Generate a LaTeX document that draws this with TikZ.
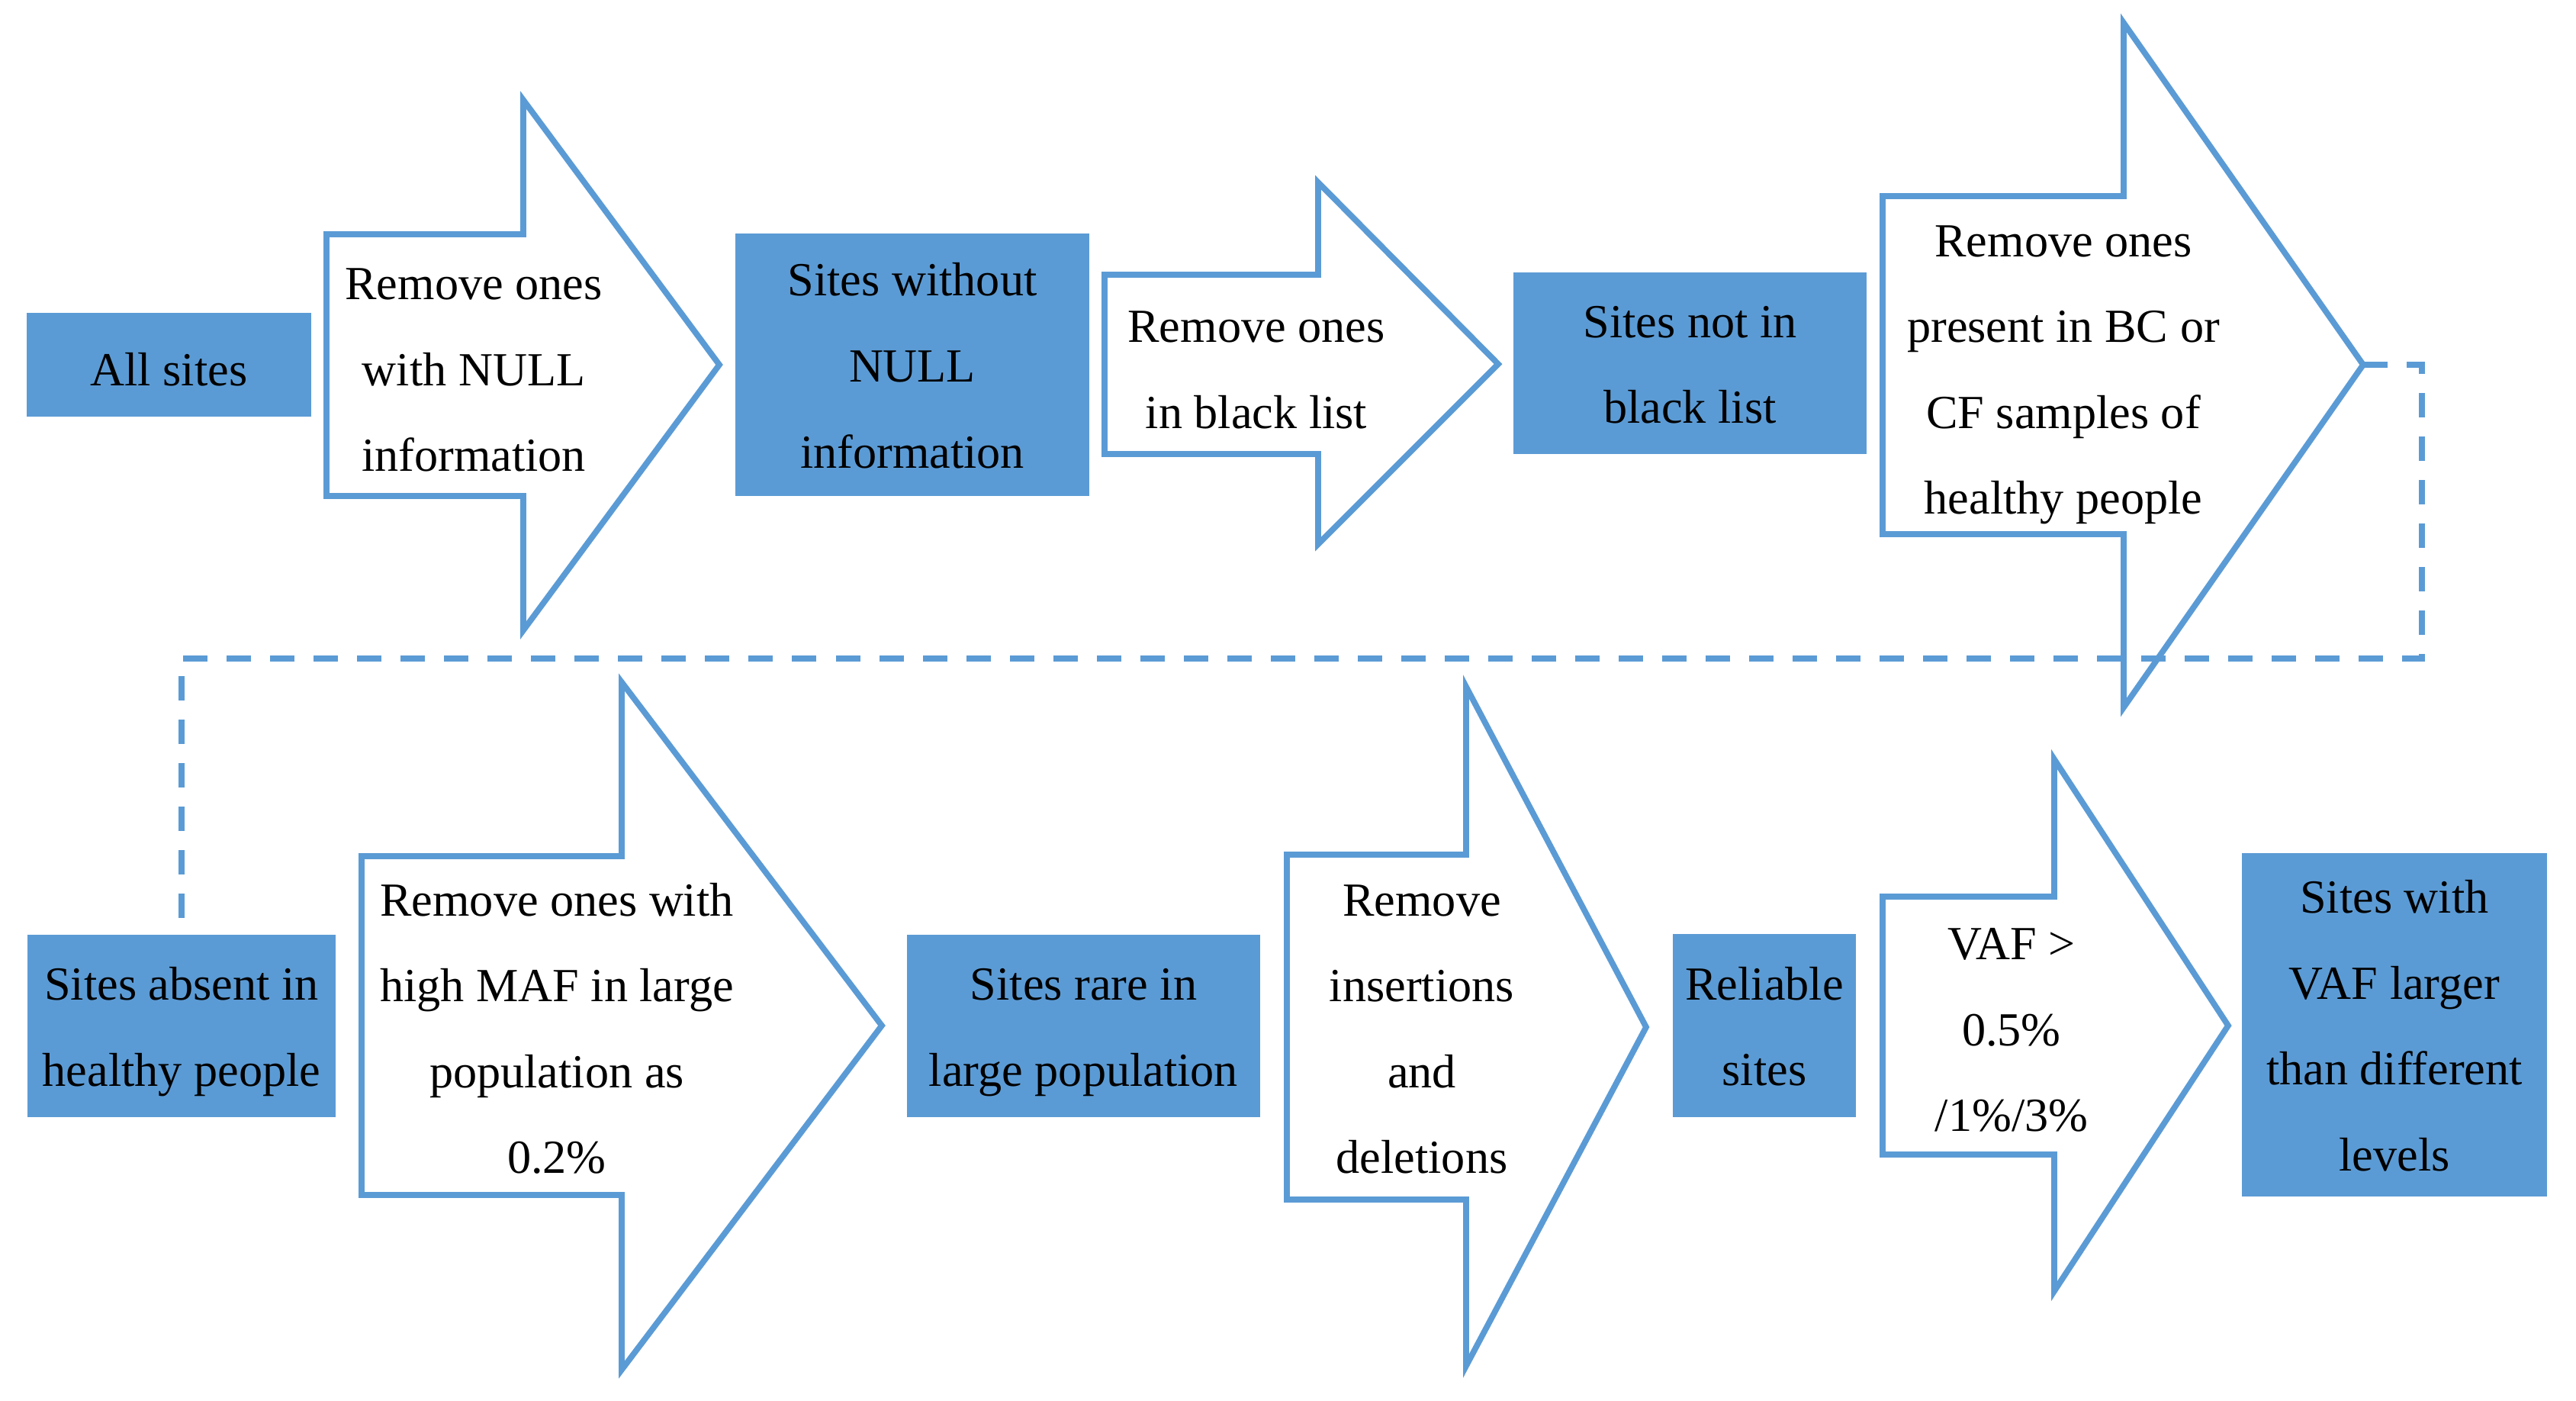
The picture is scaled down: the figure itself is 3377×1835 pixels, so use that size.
\documentclass[tikz,border=0pt]{standalone}
\usepackage{fontspec}
\setmainfont{Liberation Serif}
\newcommand\myfont{\fontsize{17.7pt}{32pt}\selectfont}
\definecolor{ablue}{HTML}{5B9BD5}
\newcommand\barrow[8]{%
  \draw[arrowline] (#1,#2) -- (#4,#2) -- (#4,#5) -- (#7,#8) -- (#4,#6) -- (#4,#3) -- (#1,#3) -- cycle;}
\begin{document}
\begin{tikzpicture}[x=0.01cm,y=-0.01cm,
  arrowline/.style={draw=ablue, line width=2.2pt, fill=white, line join=miter},
  dashline/.style={draw=ablue, line width=2.2pt, dash pattern=on 0.32cm off 0.25cm},
  sitebox/.style={fill=ablue, text=black, inner sep=0pt, font=\myfont, align=center},
  steptext/.style={inner sep=0pt, font=\myfont, align=center}]
\useasboundingbox[fill=white] (0,0) rectangle (3377,1835);

% block arrows: left, shaft top, shaft bottom, neck, head top, head bottom, tip x, tip y
\barrow{428}{307}{650}{686}{131}{826}{943}{478}
\barrow{1448}{360}{595}{1728}{239}{713}{1964}{477}
\barrow{2468}{257}{700}{2784}{30}{927}{3098}{478}
\barrow{474}{1122}{1566}{815}{894}{1795}{1156}{1344}
\barrow{1687}{1120}{1572}{1922}{900}{1790}{2158}{1346}
\barrow{2468}{1175}{1513}{2693}{995}{1692}{2921}{1344}

% step texts
\node[steptext] (t1) at (621,482.5) {\strut Remove ones\\with NULL\\information\strut};
\node[steptext] (t2) at (1647,482.5) {\strut Remove ones\\in black list\strut};
\node[steptext] (t3) at (2705,482.5) {\strut Remove ones\\present in BC or\\CF samples of\\healthy people\strut};
\node[steptext] (t4) at (730,1346.5) {\strut Remove ones with\\high MAF in large\\population as\\0.2\%\strut};
\node[steptext] (t5) at (1864,1346.5) {\strut Remove\\insertions\\and\\deletions\strut};
\node[steptext] (t6) at (2637,1347.5) {\strut VAF >\\0.5\%\\/1\%/3\%\strut};

% site boxes
\node[sitebox, minimum width=3.73cm, minimum height=1.35cm] (b1) at (221.5,478) {\strut\raisebox{-0.045cm}{All sites}\strut};
\node[sitebox, minimum width=4.64cm, minimum height=3.44cm] (b2) at (1196,478) {\strut Sites without\\NULL\\information\strut};
\node[sitebox, minimum width=4.63cm, minimum height=2.38cm] (b3) at (2215.5,476) {\strut Sites not in\\black list\strut};
\node[sitebox, minimum width=4.04cm, minimum height=2.39cm] (b4) at (238,1344.5) {\strut Sites absent in\\healthy people\strut};
\node[sitebox, minimum width=4.63cm, minimum height=2.39cm] (b5) at (1420.5,1344.5) {\strut Sites rare in\\large population\strut};
\node[sitebox, minimum width=2.40cm, minimum height=2.40cm] (b6) at (2313,1344) {\strut Reliable\\sites\strut};
\node[sitebox, minimum width=4.00cm, minimum height=4.48cm] (b7) at (3139,1343) {\strut Sites with\\VAF larger\\than different\\levels\strut};

% dashed connector between rows
\coordinate (a3tip) at (3098,478);
\coordinate (turn) at (3175,863);
\draw[dashline] (a3tip) -| (turn) -| (b4.north);
\end{tikzpicture}
\end{document}
